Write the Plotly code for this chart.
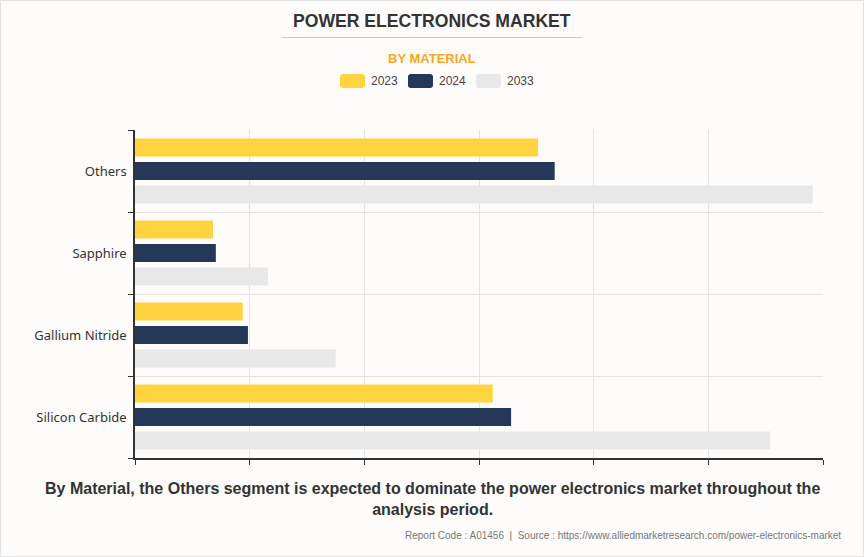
import re
import plotly.graph_objects as go

categories = ["Silicon Carbide", "Gallium Nitride", "Sapphire", "Others"]
series_names = ["2023", "2024", "2033"]
values_2023 = [31.2, 9.4, 6.8, 35.15]
values_2024 = [32.8, 9.85, 7.05, 36.6]
values_2033 = [55.4, 17.5, 11.6, 59.1]
series_values = [values_2023, values_2024, values_2033]
colors = ["#FFD43F", "#253858", "#E8E8E8"]

W, H = 864, 557
L, R, T, B = 135, 41, 130, 99
pw, ph = W - L - R, H - T - B

def px(x):
    return (x - L) / pw

def py(y):
    return (H - B - y) / ph

fig = go.Figure()
# in horizontal grouped bars the first trace sits lowest; add in reverse so 2023 is on top
for name, vals, col in reversed(list(zip(series_names, series_values, colors))):
    fig.add_trace(go.Bar(
        y=categories, x=vals, name=name, orientation="h",
        marker=dict(color=col, line=dict(width=0)),
        showlegend=False, hoverinfo="x+y+name",
    ))

shapes = []
annotations = []

# outer border
shapes.append(dict(type="rect", xref="paper", yref="paper",
                   x0=px(0.5), x1=px(W - 0.5), y0=py(H - 0.5), y1=py(0.5),
                   line=dict(color="#E2E2E2", width=1), fillcolor="rgba(0,0,0,0)", layer="below"))
# title underline
shapes.append(dict(type="line", xref="paper", yref="paper",
                   x0=px(282), x1=px(582), y0=py(37.5), y1=py(37.5),
                   line=dict(color="#C8C8C8", width=1)))

annotations.append(dict(text="<b>POWER ELECTRONICS MARKET</b>", xref="paper", yref="paper",
                        x=px(432), y=py(20.5), xanchor="center", yanchor="middle", showarrow=False,
                        font=dict(family="Liberation Sans, Arial", size=17.6, color="#333333")))
annotations.append(dict(text="<b>BY MATERIAL</b>", xref="paper", yref="paper",
                        x=px(432), y=py(58.5), xanchor="center", yanchor="middle", showarrow=False,
                        font=dict(family="Liberation Sans, Arial", size=13, color="#FAA61A")))

def conv(m):
    a, b = float(m.group(1)), float(m.group(2))
    return f"{px(a):.5f},{py(b):.5f}"

# legend (manual)
leg_x = [340, 408, 476]
for name, col, lx in zip(series_names, colors, leg_x):
    x0, x1, y0, y1 = lx, lx + 25, 74, 88
    r = 3
    path = (f"M {x0+r},{y0} L {x1-r},{y0} Q {x1},{y0} {x1},{y0+r} L {x1},{y1-r} Q {x1},{y1} {x1-r},{y1} "
            f"L {x0+r},{y1} Q {x0},{y1} {x0},{y1-r} L {x0},{y0+r} Q {x0},{y0} {x0+r},{y0} Z")
    ppath = re.sub(r"(-?[\d.]+),(-?[\d.]+)", conv, path)
    shapes.append(dict(type="path", xref="paper", yref="paper", path=ppath,
                       fillcolor=col, line=dict(width=0)))
    annotations.append(dict(text=name, xref="paper", yref="paper", x=px(lx + 29), y=py(81),
                            xanchor="left", yanchor="middle", showarrow=False,
                            font=dict(family="Liberation Sans, Arial", size=12, color="#444444")))

annotations.append(dict(
    text="<b>By Material, the Others segment is expected to dominate the power electronics market throughout the<br>analysis period.</b>",
    xref="paper", yref="paper", x=px(432), y=py(498.5), xanchor="center", yanchor="middle", showarrow=False,
    align="center", font=dict(family="Liberation Sans, Arial", size=16, color="#333333")))
annotations.append(dict(
    text="Report Code : A01456  |  Source : https://www.alliedmarketresearch.com/power-electronics-market",
    xref="paper", yref="paper", x=px(843), y=py(535), xanchor="right", yanchor="middle", showarrow=False,
    font=dict(family="Liberation Sans, Arial", size=10, color="#777777")))

fig.update_layout(
    width=W, height=H,
    margin=dict(l=L, r=R, t=T, b=B, pad=0),
    paper_bgcolor="#FDFCFB", plot_bgcolor="#FDFCFB",
    barmode="group", bargap=0.14, bargroupgap=0.23,
    shapes=shapes, annotations=annotations,
    xaxis=dict(range=[0, 60], dtick=10, tick0=0, showticklabels=False,
               showgrid=True, gridcolor="#E3E3E3", gridwidth=1,
               showline=True, linecolor="#333333", linewidth=1.5,
               ticks="outside", ticklen=5, tickcolor="#333333", zeroline=False, fixedrange=True),
    yaxis=dict(categoryorder="array", categoryarray=categories, range=[-0.5, 3.5],
               tickson="boundaries", ticks="outside", ticklen=5, tickcolor="#333333",
               showgrid=True, gridcolor="#E3E3E3", gridwidth=1,
               showline=True, linecolor="#333333", linewidth=1.5,
               tickfont=dict(family="Noto Sans, Open Sans", size=13, color="#333333"),
               ticklabelstandoff=4, fixedrange=True),
    font=dict(family="Liberation Sans, Arial"),
)
fig.write_html("out.html", config={"displayModeBar": False},
               post_script="document.body.style.margin='0';document.body.style.background='#FDFCFB';")
